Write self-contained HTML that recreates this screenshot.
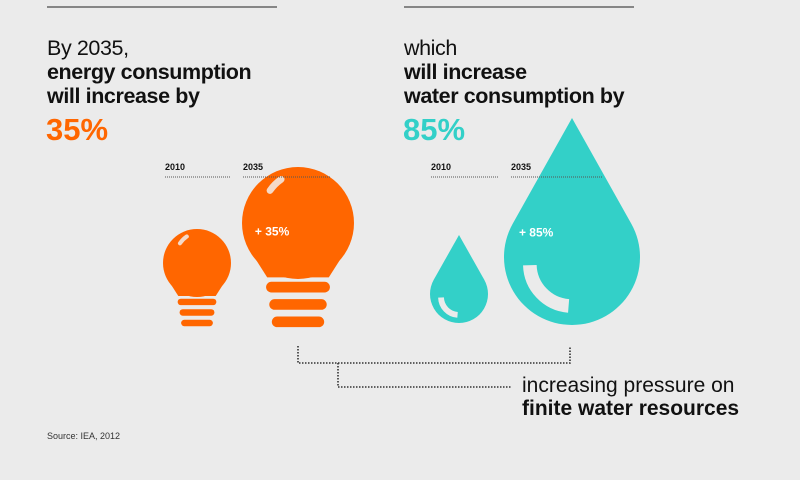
<!DOCTYPE html>
<html><head><meta charset="utf-8">
<style>
html,body{margin:0;padding:0;background:#ebebeb;}
#root{position:relative;width:800px;height:480px;overflow:hidden;background:#ebebeb;font-family:"Liberation Sans",Arial,sans-serif;}
.t{position:absolute;white-space:nowrap;color:#111;}
.h{font-size:21.5px;line-height:24px;letter-spacing:-0.4px;}
</style></head>
<body>
<div id="root">
<svg width="800" height="480" style="position:absolute;left:0;top:0">
  <line x1="47" y1="7" x2="277" y2="7" stroke="#222" stroke-width="1"/>
  <line x1="404" y1="7" x2="634" y2="7" stroke="#222" stroke-width="1"/>
  <g id="marks"></g>
  <g id="labels"></g>
  <g stroke="#333" stroke-width="1.6" stroke-dasharray="1.5 1.5" fill="none">
    <polyline points="298,346 298,363 570,363 570,346"/>
    <polyline points="338,363 338,387 512,387"/>
  </g>
</svg>
<div class="t h" style="left:47px;top:36px">By 2035,<br><b>energy consumption<br>will increase by</b></div>
<div class="t" id="pctE" style="left:46px;top:112px;font-size:31px;font-weight:bold;color:#ff6600"></div>
<div class="t h" style="left:404px;top:36px">which<br><b>will increase<br>water consumption by</b></div>
<div class="t" id="pctW" style="left:403px;top:112px;font-size:31px;font-weight:bold;color:#33d0c8"></div>
<div class="t" style="left:522px;top:374px;font-size:21px;line-height:23px">increasing pressure on<br><b>finite water resources</b></div>
<div class="t" style="left:47px;top:431px;font-size:9px;color:#333">Source: IEA, 2012</div>
</div>
<script>
const years = ["2010","2035"];
const energyIncrease = [35];
const waterIncrease = [85];
const NS="http://www.w3.org/2000/svg";
const g=document.getElementById('marks');
const gl=document.getElementById('labels');
function el(tag,attrs,parent){const e=document.createElementNS(NS,tag);for(const k in attrs)e.setAttribute(k,attrs[k]);(parent||g).appendChild(e);return e;}
document.getElementById('pctE').textContent=energyIncrease[0]+"%";
document.getElementById('pctW').textContent=waterIncrease[0]+"%";
const lab=[[165,230,years[0]],[243,330,years[1]],[431,498,years[0]],[511,602,years[1]]];
lab.forEach((l,i)=>{
  const t=el('text',{x:l[0],y:170,'font-size':9,'font-weight':'bold',fill:'#111','font-family':'Liberation Sans, sans-serif'},gl);
  
  
  t.textContent=l[2];
  const ln=el('line',{x1:l[0],y1:177,x2:l[1],y2:177,stroke:'#555','stroke-width':1,'stroke-dasharray':'1 1'},gl);
  
  
});
function bulb(cx,cy,r,label){
  const O='#ff6600';
  const grp=el('g',{});
  
  
  el('circle',{cx:cx,cy:cy,r:r,fill:O},grp);
  const nw=r*0.55, ny=cy+r*0.97;
  el('path',{d:`M${cx-r*0.85},${cy+r*0.5} L${cx-nw},${ny} L${cx+nw},${ny} L${cx+r*0.85},${cy+r*0.5} Z`,fill:O},grp);
  const bw=r*0.57, bh=r*0.19, gap=r*0.06;
  let y=ny+r*0.08;
  [1,0.9,0.82].forEach(f=>{
    el('rect',{x:cx-bw*f,y:y,width:2*bw*f,height:bh,rx:bh/2,fill:O},grp);
    y+=bh+gap*2;
  });
  el('path',{d:`M${cx-r*0.5},${cy-r*0.58} A${r*0.78},${r*0.78} 0 0 1 ${cx-r*0.3},${cy-r*0.78}`,stroke:'#f4d9c8','stroke-width':r*0.12,'stroke-linecap':'round',fill:'none'},grp);
  if(label){const t=el('text',{x:cx-r*0.77,y:cy+r*0.22,'font-size':12,'font-weight':'bold',fill:'#fff','font-family':'Liberation Sans, sans-serif'},grp);t.textContent=label;}
}
function drop(cx,cy,r,tipY,label){
  const T='#33d0c8';
  const grp=el('g',{});
  
  
  const a=Math.asin(r/(cy-tipY));
  const px=r*Math.cos(a), py=cy-r*Math.sin(a);
  el('path',{d:`M${cx},${tipY} L${cx+px},${py} A${r},${r} 0 1 1 ${cx-px},${py} Z`,fill:T},grp);
  el('path',{d:`M${cx-r*0.62},${cy+r*0.12} A${r*0.62},${r*0.62} 0 0 0 ${cx-r*0.05},${cy+r*0.72}`,stroke:'#ebebeb','stroke-width':r*0.2,fill:'none'},grp);
  if(label){const t=el('text',{x:cx-r*0.78,y:cy-r*0.3,'font-size':12,'font-weight':'bold',fill:'#fff','font-family':'Liberation Sans, sans-serif'},grp);t.textContent=label;}
}
bulb(197,263,34,null);
bulb(298,223,56,"+ "+energyIncrease[0]+"%");
drop(459,294,29,235,null);
drop(572,257,68,118,"+ "+waterIncrease[0]+"%");
</script>
</body></html>
